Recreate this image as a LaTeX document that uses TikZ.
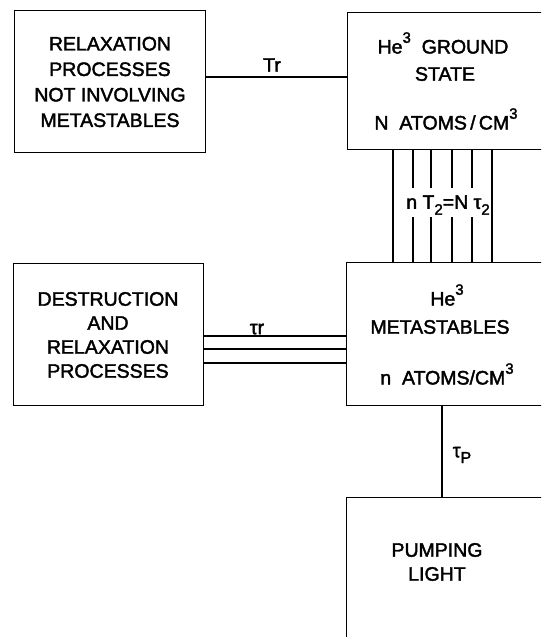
\documentclass[tikz,border=0pt]{standalone}
\usepackage{fontspec}
\setmainfont{Liberation Sans}
\newfontfamily\lettering{Liberation Sans}[FakeBold=2]
\usetikzlibrary{calc}
\newcommand{\supthree}{\raisebox{0.55em}{\fontsize{15}{15}\selectfont 3}}
\newcommand{\subtwo}{\raisebox{-0.3em}{\fontsize{15}{15}\selectfont 2}}
\begin{document}
\begin{tikzpicture}[x=1pt,y=-1pt,
  box/.style={draw, line width=1.4pt, anchor=north west, inner sep=0pt},
  lbl/.style={font=\lettering\fontsize{19.5}{24}\selectfont, align=center, inner sep=0pt},
  link/.style={line width=1.2pt}]
\useasboundingbox (0,0) rectangle (541,637);
\clip (0,0) rectangle (541,637);
% boxes
\node[box, minimum width=191pt, minimum height=142pt] (b1) at (14,10) {};
\node[box, minimum width=198pt, minimum height=137pt] (b2) at (347,12) {};
\node[box, minimum width=190pt, minimum height=142pt] (b4) at (13,263) {};
\node[box, minimum width=199pt, minimum height=143pt] (b3) at (346,262) {};
\node[box, minimum width=199pt, minimum height=170pt] (b5) at (346,497) {};
% texts
\node[lbl, font=\lettering\fontsize{19.5}{25.5}\selectfont] (t1) at (110,82) {RELAXATION\\PROCESSES\\NOT INVOLVING\\METASTABLES};
\node[lbl] (t2a) at (443,43) {He\supthree\ \ GROUND};
\node[lbl] (t2b) at (445,74) {STATE};
\node[lbl] (t2c) at (446,119) {N\ \ ATOMS\,/\,CM\supthree};
\node[lbl] (t4) at (108,335) {DESTRUCTION\\AND\\RELAXATION\\PROCESSES};
\node[lbl] (t3a) at (447,295) {He\supthree};
\node[lbl] (t3b) at (440,327) {METASTABLES};
\node[lbl] (t3c) at (447,374) {n\ \ ATOMS/CM\supthree};
\node[lbl] (t5) at (437,562) {PUMPING\\LIGHT};
% connector Tr
\coordinate (c1) at ($(b1.north east)+(0,67)$);
\draw[link] (c1) -- (c1 -| b2.west);
\node[lbl] (lTr) at (272,65) {Tr};
% connector between ground state and metastables
\foreach \xx in {393,492}{
  \draw[link] (b2.south -| \xx,0) -- (b3.north -| \xx,0);
}
\foreach \xx in {413,431,452,472}{
  \draw[link] (b2.south -| \xx,0) -- (\xx,188);
  \draw[link] (\xx,217) -- (b3.north -| \xx,0);
}
\node[lbl] (lnt) at (448,205) {n T\subtwo=N τ\subtwo};
% triple connector
\foreach \yy in {336,349,363}{
  \draw[link] (b4.east |- 0,\yy) -- (b3.west |- 0,\yy);
}
\node[lbl] (ltr) at (257,329) {τr};
% pumping connector
\draw[link] (b3.south -| 442,0) -- (b5.north -| 442,0);
\node[lbl] (ltp) at (462,455) {τ\raisebox{-0.3em}{\fontsize{16}{16}\selectfont P}};
\end{tikzpicture}
\end{document}
